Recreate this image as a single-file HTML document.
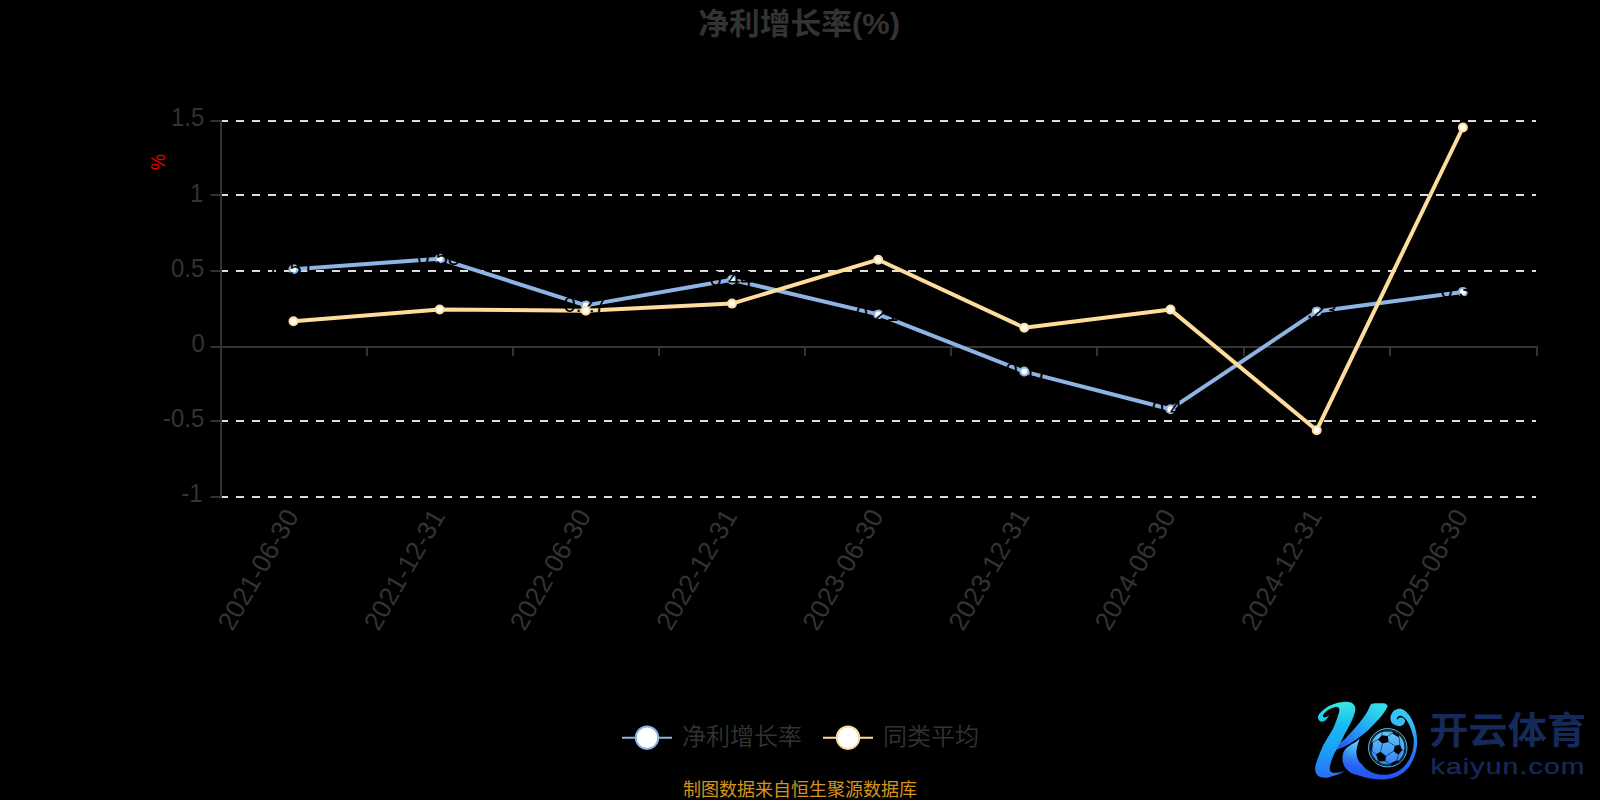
<!DOCTYPE html>
<html lang="zh-CN"><head><meta charset="utf-8"><title>净利增长率(%)</title>
<style>
html,body{margin:0;padding:0;background:#000;}
body{width:1600px;height:800px;overflow:hidden;font-family:"Liberation Sans","Noto Sans CJK SC",sans-serif;}
svg{display:block}
text{font-family:"Liberation Sans","Noto Sans CJK SC",sans-serif;}
</style></head><body>
<svg width="1600" height="800" viewBox="0 0 1600 800">
<rect width="1600" height="800" fill="#000"/>

<text x="799.1" y="33.5" font-size="30" font-weight="bold" fill="#333" text-anchor="middle" textLength="201.6" lengthAdjust="spacingAndGlyphs">净利增长率(%)</text>
<line x1="220" x2="1536" y1="121" y2="121" stroke="#dcdcdc" stroke-width="2" stroke-dasharray="8 8"/>
<line x1="220" x2="1536" y1="195" y2="195" stroke="#dcdcdc" stroke-width="2" stroke-dasharray="8 8"/>
<line x1="220" x2="1536" y1="271" y2="271" stroke="#dcdcdc" stroke-width="2" stroke-dasharray="8 8"/>
<line x1="220" x2="1536" y1="421" y2="421" stroke="#dcdcdc" stroke-width="2" stroke-dasharray="8 8"/>
<line x1="220" x2="1536" y1="497" y2="497" stroke="#dcdcdc" stroke-width="2" stroke-dasharray="8 8"/>
<line x1="221" x2="221" y1="120" y2="498" stroke="#333" stroke-width="2"/>
<line x1="220" x2="1538" y1="347" y2="347" stroke="#333" stroke-width="2"/>
<line x1="210.5" x2="221" y1="121" y2="121" stroke="#333" stroke-width="2"/>
<text transform="translate(204.2,126.4) scale(0.92,1)" font-size="26" fill="#333" text-anchor="end">1.5</text>
<line x1="210.5" x2="221" y1="195" y2="195" stroke="#333" stroke-width="2"/>
<text transform="translate(203.2,201.6) scale(0.92,1)" font-size="26" fill="#333" text-anchor="end">1</text>
<line x1="210.5" x2="221" y1="271" y2="271" stroke="#333" stroke-width="2"/>
<text transform="translate(204.2,276.8) scale(0.92,1)" font-size="26" fill="#333" text-anchor="end">0.5</text>
<line x1="210.5" x2="221" y1="347" y2="347" stroke="#333" stroke-width="2"/>
<text transform="translate(204.7,352.0) scale(0.92,1)" font-size="26" fill="#333" text-anchor="end">0</text>
<line x1="210.5" x2="221" y1="421" y2="421" stroke="#333" stroke-width="2"/>
<text transform="translate(204.2,427.2) scale(0.92,1)" font-size="26" fill="#333" text-anchor="end">-0.5</text>
<line x1="210.5" x2="221" y1="497" y2="497" stroke="#333" stroke-width="2"/>
<text transform="translate(202.6,502.4) scale(0.92,1)" font-size="26" fill="#333" text-anchor="end">-1</text>
<line x1="367" x2="367" y1="347" y2="356" stroke="#333" stroke-width="2"/>
<line x1="513" x2="513" y1="347" y2="356" stroke="#333" stroke-width="2"/>
<line x1="659" x2="659" y1="347" y2="356" stroke="#333" stroke-width="2"/>
<line x1="805" x2="805" y1="347" y2="356" stroke="#333" stroke-width="2"/>
<line x1="951" x2="951" y1="347" y2="356" stroke="#333" stroke-width="2"/>
<line x1="1097" x2="1097" y1="347" y2="356" stroke="#333" stroke-width="2"/>
<line x1="1244" x2="1244" y1="347" y2="356" stroke="#333" stroke-width="2"/>
<line x1="1390" x2="1390" y1="347" y2="356" stroke="#333" stroke-width="2"/>
<line x1="1537" x2="1537" y1="347" y2="356" stroke="#333" stroke-width="2"/>
<text transform="translate(291.7,511.3) rotate(-60)" font-size="26.3" fill="#333" text-anchor="end" dominant-baseline="central">2021-06-30</text>
<text transform="translate(437.9,511.3) rotate(-60)" font-size="26.3" fill="#333" text-anchor="end" dominant-baseline="central">2021-12-31</text>
<text transform="translate(584.0,511.3) rotate(-60)" font-size="26.3" fill="#333" text-anchor="end" dominant-baseline="central">2022-06-30</text>
<text transform="translate(730.2,511.3) rotate(-60)" font-size="26.3" fill="#333" text-anchor="end" dominant-baseline="central">2022-12-31</text>
<text transform="translate(876.4,511.3) rotate(-60)" font-size="26.3" fill="#333" text-anchor="end" dominant-baseline="central">2023-06-30</text>
<text transform="translate(1022.5,511.3) rotate(-60)" font-size="26.3" fill="#333" text-anchor="end" dominant-baseline="central">2023-12-31</text>
<text transform="translate(1168.7,511.3) rotate(-60)" font-size="26.3" fill="#333" text-anchor="end" dominant-baseline="central">2024-06-30</text>
<text transform="translate(1314.9,511.3) rotate(-60)" font-size="26.3" fill="#333" text-anchor="end" dominant-baseline="central">2024-12-31</text>
<text transform="translate(1461.1,511.3) rotate(-60)" font-size="26.3" fill="#333" text-anchor="end" dominant-baseline="central">2025-06-30</text>
<text transform="translate(158,162) rotate(-90) scale(0.9,1)" font-size="20" fill="#e60000" text-anchor="middle" dominant-baseline="central">%</text>
<polyline points="293.5,269.3 439.7,258.8 585.8,305.4 732.0,279.8 878.2,314.4 1024.3,371.6 1170.5,409.2 1316.7,311.4 1462.9,291.9" fill="none" stroke="#8eb4e3" stroke-width="4" stroke-linejoin="bevel"/>
<circle cx="293.5" cy="269.3" r="4" fill="#fff" stroke="#8eb4e3" stroke-width="2"/>
<circle cx="439.7" cy="258.8" r="4" fill="#fff" stroke="#8eb4e3" stroke-width="2"/>
<circle cx="585.8" cy="305.4" r="4" fill="#fff" stroke="#8eb4e3" stroke-width="2"/>
<circle cx="732.0" cy="279.8" r="4" fill="#fff" stroke="#8eb4e3" stroke-width="2"/>
<circle cx="878.2" cy="314.4" r="4" fill="#fff" stroke="#8eb4e3" stroke-width="2"/>
<circle cx="1024.3" cy="371.6" r="4" fill="#fff" stroke="#8eb4e3" stroke-width="2"/>
<circle cx="1170.5" cy="409.2" r="4" fill="#fff" stroke="#8eb4e3" stroke-width="2"/>
<circle cx="1316.7" cy="311.4" r="4" fill="#fff" stroke="#8eb4e3" stroke-width="2"/>
<circle cx="1462.9" cy="291.9" r="4" fill="#fff" stroke="#8eb4e3" stroke-width="2"/>
<polyline points="293.5,321.2 439.7,309.5 585.8,310.7 732.0,303.6 878.2,259.7 1024.3,327.7 1170.5,309.6 1316.7,430.2 1462.9,127.5" fill="none" stroke="#fedd9c" stroke-width="4" stroke-linejoin="bevel"/>
<text x="292.5" y="275.6" font-size="22" fill="#000" text-anchor="middle">0.51</text>
<text x="438.7" y="265.1" font-size="22" fill="#000" text-anchor="middle">0.58</text>
<text x="584.8" y="311.7" font-size="22" fill="#000" text-anchor="middle">0.27</text>
<text x="731.0" y="286.1" font-size="22" fill="#000" text-anchor="middle">0.44</text>
<text x="877.2" y="320.7" font-size="22" fill="#000" text-anchor="middle">0.21</text>
<text x="1023.3" y="377.9" font-size="22" fill="#000" text-anchor="middle">-0.17</text>
<text x="1169.5" y="415.5" font-size="22" fill="#000" text-anchor="middle">-0.42</text>
<text x="1315.7" y="317.7" font-size="22" fill="#000" text-anchor="middle">0.23</text>
<text x="1461.9" y="298.2" font-size="22" fill="#000" text-anchor="middle">0.36</text>
<circle cx="293.5" cy="321.2" r="4" fill="#fff" stroke="#fedd9c" stroke-width="2"/>
<circle cx="439.7" cy="309.5" r="4" fill="#fff" stroke="#fedd9c" stroke-width="2"/>
<circle cx="585.8" cy="310.7" r="4" fill="#fff" stroke="#fedd9c" stroke-width="2"/>
<circle cx="732.0" cy="303.6" r="4" fill="#fff" stroke="#fedd9c" stroke-width="2"/>
<circle cx="878.2" cy="259.7" r="4" fill="#fff" stroke="#fedd9c" stroke-width="2"/>
<circle cx="1024.3" cy="327.7" r="4" fill="#fff" stroke="#fedd9c" stroke-width="2"/>
<circle cx="1170.5" cy="309.6" r="4" fill="#fff" stroke="#fedd9c" stroke-width="2"/>
<circle cx="1316.7" cy="430.2" r="4" fill="#fff" stroke="#fedd9c" stroke-width="2"/>
<circle cx="1462.9" cy="127.5" r="4" fill="#fff" stroke="#fedd9c" stroke-width="2"/>
<line x1="622" x2="672" y1="737.7" y2="737.7" stroke="#8eb4e3" stroke-width="2"/><circle cx="647" cy="737.7" r="11.2" fill="#fff" stroke="#8eb4e3" stroke-width="2"/>
<text x="682" y="745" font-size="24" font-weight="350" fill="#333">净利增长率</text>
<line x1="823" x2="873" y1="737.7" y2="737.7" stroke="#fedd9c" stroke-width="2"/><circle cx="848" cy="737.7" r="11.2" fill="#fff" stroke="#fedd9c" stroke-width="2"/>
<text x="883" y="745" font-size="24" font-weight="350" fill="#333">同类平均</text>
<text x="800" y="796" font-size="18" fill="#d4941e" text-anchor="middle">制图数据来自恒生聚源数据库</text>
<defs><linearGradient id="ga" gradientUnits="userSpaceOnUse" x1="0" y1="55" x2="0" y2="740"><stop offset="0" stop-color="#3deadf"/><stop offset="0.3" stop-color="#17bdf5"/><stop offset="0.7" stop-color="#1d98f8"/><stop offset="1" stop-color="#2a6cf6"/></linearGradient><linearGradient id="gb" gradientUnits="userSpaceOnUse" x1="640" y1="80" x2="300" y2="480"><stop offset="0" stop-color="#36dde8"/><stop offset="0.45" stop-color="#22a8f6"/><stop offset="0.8" stop-color="#2a72f4"/><stop offset="1" stop-color="#2c4ef0"/></linearGradient><linearGradient id="gc" gradientUnits="userSpaceOnUse" x1="0" y1="120" x2="0" y2="755"><stop offset="0" stop-color="#36cdf3"/><stop offset="0.25" stop-color="#36b8f8"/><stop offset="0.45" stop-color="#2c92f8"/><stop offset="0.7" stop-color="#2a6cf5"/><stop offset="1" stop-color="#2450f2"/></linearGradient><radialGradient id="gr" gradientUnits="userSpaceOnUse" cx="450" cy="410" r="230"><stop offset="0" stop-color="#5ad4fa" stop-opacity="0.95"/><stop offset="0.45" stop-color="#46b4f8" stop-opacity="0.7"/><stop offset="1" stop-color="#2f80f6" stop-opacity="0"/></radialGradient><clipPath id="cc"><path d="M484.4,390.0 C478.8,394.7 465.7,407.8 451.0,418.0 C436.3,428.2 411.7,439.9 396.0,451.0 C380.3,462.1 366.8,471.5 357.0,484.5 C347.2,497.5 340.8,512.3 337.0,529.0 C333.2,545.7 332.1,566.9 334.4,584.5 C336.7,602.1 342.7,619.7 351.0,634.5 C359.3,649.3 371.4,662.3 384.4,673.4 C397.4,684.5 408.6,692.7 429.0,701.0 C449.4,709.3 478.5,716.1 507.0,723.4 C535.5,730.7 571.2,740.2 600.0,745.0 C628.8,749.8 651.7,752.8 680.0,752.0 C708.3,751.2 740.0,748.7 770.0,740.0 C800.0,731.3 833.3,718.3 860.0,700.0 C886.7,681.7 910.8,656.7 930.0,630.0 C949.2,603.3 964.2,570.0 975.0,540.0 C985.8,510.0 991.5,473.3 995.0,450.0 C998.5,426.7 996.7,419.5 995.7,400.0 C994.7,380.5 993.8,356.7 989.0,333.0 C984.2,309.3 975.8,281.3 967.0,258.0 C958.2,234.7 947.5,211.3 936.0,193.0 C924.5,174.7 911.0,159.3 898.0,148.0 C885.0,136.7 871.7,128.5 858.0,125.0 C844.3,121.5 829.0,122.8 816.0,127.0 C803.0,131.2 789.2,139.3 780.0,150.0 C770.8,160.7 763.6,177.2 761.0,191.0 C758.4,204.8 759.5,221.0 764.5,233.0 C769.5,245.0 779.9,255.8 791.0,263.0 C802.1,270.2 818.7,275.5 831.0,276.5 C843.3,277.5 855.7,274.3 865.0,269.0 C874.3,263.7 883.3,252.7 887.0,244.5 C890.7,236.3 890.3,227.1 887.0,220.0 C883.7,212.9 874.0,205.3 867.0,202.0 C860.0,198.7 851.8,198.5 845.0,200.0 C838.2,201.5 830.2,207.2 826.0,211.0 C821.8,214.8 821.0,221.0 820.0,223.0 C819.5,220.3 815.3,212.7 817.0,207.0 C818.7,201.3 823.2,192.3 830.0,189.0 C836.8,185.7 848.2,183.8 858.0,187.0 C867.8,190.2 879.3,198.4 889.0,208.0 C898.7,217.6 907.2,228.8 916.0,244.5 C924.8,260.2 934.7,282.0 942.0,302.0 C949.3,322.0 955.8,348.2 960.0,364.5 C964.2,380.8 966.7,382.4 967.0,400.0 C967.3,417.6 966.5,445.8 962.0,470.0 C957.5,494.2 951.2,520.0 940.0,545.0 C928.8,570.0 913.3,598.3 895.0,620.0 C876.7,641.7 854.2,660.8 830.0,675.0 C805.8,689.2 775.0,699.5 750.0,705.0 C725.0,710.5 705.0,710.5 680.0,708.0 C655.0,705.5 623.3,698.8 600.0,690.0 C576.7,681.2 555.5,667.0 540.0,655.0 C524.5,643.0 516.3,627.9 507.0,618.0 C497.7,608.1 491.9,606.8 484.4,595.6 C476.9,584.4 466.6,567.7 462.0,551.0 C457.4,534.3 455.7,514.1 456.7,495.6 C457.7,477.1 463.2,457.6 467.8,440.0 C472.4,422.4 481.6,398.3 484.4,390.0 Z"/></clipPath><linearGradient id="bg" gradientUnits="userSpaceOnUse" x1="0" y1="140" x2="0" y2="600"><stop offset="0" stop-color="#66c8f6"/><stop offset="1" stop-color="#3381f6"/></linearGradient></defs>
<g transform="translate(1305,695) scale(0.1125)">
<path d="M484.4,390.0 C478.8,394.7 465.7,407.8 451.0,418.0 C436.3,428.2 411.7,439.9 396.0,451.0 C380.3,462.1 366.8,471.5 357.0,484.5 C347.2,497.5 340.8,512.3 337.0,529.0 C333.2,545.7 332.1,566.9 334.4,584.5 C336.7,602.1 342.7,619.7 351.0,634.5 C359.3,649.3 371.4,662.3 384.4,673.4 C397.4,684.5 408.6,692.7 429.0,701.0 C449.4,709.3 478.5,716.1 507.0,723.4 C535.5,730.7 571.2,740.2 600.0,745.0 C628.8,749.8 651.7,752.8 680.0,752.0 C708.3,751.2 740.0,748.7 770.0,740.0 C800.0,731.3 833.3,718.3 860.0,700.0 C886.7,681.7 910.8,656.7 930.0,630.0 C949.2,603.3 964.2,570.0 975.0,540.0 C985.8,510.0 991.5,473.3 995.0,450.0 C998.5,426.7 996.7,419.5 995.7,400.0 C994.7,380.5 993.8,356.7 989.0,333.0 C984.2,309.3 975.8,281.3 967.0,258.0 C958.2,234.7 947.5,211.3 936.0,193.0 C924.5,174.7 911.0,159.3 898.0,148.0 C885.0,136.7 871.7,128.5 858.0,125.0 C844.3,121.5 829.0,122.8 816.0,127.0 C803.0,131.2 789.2,139.3 780.0,150.0 C770.8,160.7 763.6,177.2 761.0,191.0 C758.4,204.8 759.5,221.0 764.5,233.0 C769.5,245.0 779.9,255.8 791.0,263.0 C802.1,270.2 818.7,275.5 831.0,276.5 C843.3,277.5 855.7,274.3 865.0,269.0 C874.3,263.7 883.3,252.7 887.0,244.5 C890.7,236.3 890.3,227.1 887.0,220.0 C883.7,212.9 874.0,205.3 867.0,202.0 C860.0,198.7 851.8,198.5 845.0,200.0 C838.2,201.5 830.2,207.2 826.0,211.0 C821.8,214.8 821.0,221.0 820.0,223.0 C819.5,220.3 815.3,212.7 817.0,207.0 C818.7,201.3 823.2,192.3 830.0,189.0 C836.8,185.7 848.2,183.8 858.0,187.0 C867.8,190.2 879.3,198.4 889.0,208.0 C898.7,217.6 907.2,228.8 916.0,244.5 C924.8,260.2 934.7,282.0 942.0,302.0 C949.3,322.0 955.8,348.2 960.0,364.5 C964.2,380.8 966.7,382.4 967.0,400.0 C967.3,417.6 966.5,445.8 962.0,470.0 C957.5,494.2 951.2,520.0 940.0,545.0 C928.8,570.0 913.3,598.3 895.0,620.0 C876.7,641.7 854.2,660.8 830.0,675.0 C805.8,689.2 775.0,699.5 750.0,705.0 C725.0,710.5 705.0,710.5 680.0,708.0 C655.0,705.5 623.3,698.8 600.0,690.0 C576.7,681.2 555.5,667.0 540.0,655.0 C524.5,643.0 516.3,627.9 507.0,618.0 C497.7,608.1 491.9,606.8 484.4,595.6 C476.9,584.4 466.6,567.7 462.0,551.0 C457.4,534.3 455.7,514.1 456.7,495.6 C457.7,477.1 463.2,457.6 467.8,440.0 C472.4,422.4 481.6,398.3 484.4,390.0 Z" fill="url(#gc)"/>
<circle cx="450" cy="410" r="230" fill="url(#gr)" clip-path="url(#cc)"/>
<path d="M281.7,484.5 C286.6,475.2 298.6,444.8 311.0,429.0 C323.4,413.2 337.5,408.5 356.0,390.0 C374.5,371.5 399.8,343.0 422.0,318.0 C444.2,293.0 468.5,266.0 489.0,240.0 C509.5,214.0 531.2,183.3 545.0,162.0 C558.8,140.7 566.5,123.1 572.0,112.0 C577.5,100.9 574.7,100.8 578.0,95.6 C581.3,90.4 584.7,84.7 592.0,81.0 C599.3,77.3 604.0,74.7 622.0,73.4 C640.0,72.1 682.8,71.6 700.0,73.4 C717.2,75.2 719.4,79.9 725.0,84.5 C730.6,89.1 734.0,94.5 733.5,101.0 C733.0,107.5 732.2,107.6 722.0,123.4 C711.8,139.2 692.3,171.1 672.0,196.0 C651.7,220.9 625.0,248.0 600.0,273.0 C575.0,298.0 551.7,321.8 522.0,346.0 C492.3,370.2 451.6,398.7 422.0,418.0 C392.4,437.3 367.9,450.9 344.5,462.0 C321.1,473.1 292.2,480.8 281.7,484.5 Z" fill="url(#gb)"/>
<path d="M212.0,179.0 C210.5,182.5 209.2,191.3 203.0,200.0 C196.8,208.7 185.2,224.8 175.0,231.0 C164.8,237.2 151.5,240.0 142.0,237.0 C132.5,234.0 121.7,222.5 118.0,213.0 C114.3,203.5 113.5,192.5 120.0,180.0 C126.5,167.5 140.7,152.0 157.0,138.0 C173.3,124.0 196.8,107.2 218.0,96.0 C239.2,84.8 260.8,77.2 284.0,71.0 C307.2,64.8 336.5,59.7 357.0,59.0 C377.5,58.3 393.2,61.0 407.0,67.0 C420.8,73.0 433.3,83.8 440.0,95.0 C446.7,106.2 448.7,117.2 447.0,134.0 C445.3,150.8 438.5,173.7 430.0,196.0 C421.5,218.3 409.2,242.2 396.0,268.0 C382.8,293.8 364.3,325.3 351.0,351.0 C337.7,376.7 327.2,400.7 316.0,422.0 C304.8,443.3 293.0,463.0 284.0,479.0 C275.0,495.0 270.0,500.5 262.0,518.0 C254.0,535.5 242.8,563.7 236.0,584.0 C229.2,604.3 223.0,625.2 221.0,640.0 C219.0,654.8 219.8,664.7 224.0,673.0 C228.2,681.3 234.0,687.2 246.0,690.0 C258.0,692.8 278.5,692.3 296.0,690.0 C313.5,687.7 341.8,678.3 351.0,676.0 C344.5,679.5 327.7,690.0 312.0,697.0 C296.3,704.0 277.3,711.7 257.0,718.0 C236.7,724.3 210.5,733.2 190.0,735.0 C169.5,736.8 148.8,734.7 134.0,729.0 C119.2,723.3 108.3,714.0 101.0,701.0 C93.7,688.0 89.0,670.5 90.0,651.0 C91.0,631.5 96.7,614.5 107.0,584.0 C117.3,553.5 136.0,502.7 152.0,468.0 C168.0,433.3 186.5,404.7 203.0,376.0 C219.5,347.3 237.5,323.3 251.0,296.0 C264.5,268.7 275.7,235.2 284.0,212.0 C292.3,188.8 297.5,171.5 301.0,157.0 C304.5,142.5 306.8,133.2 305.0,125.0 C303.2,116.8 298.0,110.5 290.0,108.0 C282.0,105.5 270.0,106.5 257.0,110.0 C244.0,113.5 226.0,120.7 212.0,129.0 C198.0,137.3 181.8,150.7 173.0,160.0 C164.2,169.3 159.8,178.7 159.0,185.0 C158.2,191.3 162.8,196.2 168.0,198.0 C173.2,199.8 182.7,199.2 190.0,196.0 C197.3,192.8 208.3,181.8 212.0,179.0 Z" fill="url(#ga)"/>
</g>
<g transform="translate(1360,720) scale(0.075)">
<circle cx="370" cy="370" r="256" fill="none" stroke="#5fc6f7" stroke-width="13"/>
<circle cx="370" cy="370" r="236" fill="none" stroke="#4aa8f0" stroke-width="5"/>
<circle cx="370" cy="370" r="224" fill="url(#bg)"/>
<polygon points="290,203 372,212 382,292 300,312 238,262" fill="#000"/>
<polygon points="462,345 532,328 562,402 512,462 448,415" fill="#000"/>
<polygon points="212,455 275,423 347,480 337,548 248,552" fill="#000"/>
<polygon points="438,150 522,198 520,232 440,186" fill="#000"/>
<polygon points="400,582 492,538 524,552 432,602" fill="#000"/>
<polygon points="146,300 170,292 162,405 140,420" fill="#000"/>
<polyline points="372,212 440,172" stroke="#021030" stroke-width="8" fill="none"/>
<polyline points="382,292 462,345" stroke="#021030" stroke-width="8" fill="none"/>
<polyline points="300,312 275,423" stroke="#021030" stroke-width="8" fill="none"/>
<polyline points="238,262 168,296" stroke="#021030" stroke-width="8" fill="none"/>
<polyline points="290,203 296,150" stroke="#021030" stroke-width="8" fill="none"/>
<polyline points="532,328 522,228" stroke="#021030" stroke-width="8" fill="none"/>
<polyline points="562,402 604,412" stroke="#021030" stroke-width="8" fill="none"/>
<polyline points="512,462 492,540" stroke="#021030" stroke-width="8" fill="none"/>
<polyline points="448,415 347,480" stroke="#021030" stroke-width="8" fill="none"/>
<polyline points="337,548 402,584" stroke="#021030" stroke-width="8" fill="none"/>
<polyline points="248,552 236,572" stroke="#021030" stroke-width="8" fill="none"/>
<polyline points="212,455 152,410" stroke="#021030" stroke-width="8" fill="none"/>
<polyline points="296,150 440,160" stroke="#021030" stroke-width="8" fill="none"/>
<polyline points="168,296 152,410" stroke="#021030" stroke-width="8" fill="none"/>
</g>
<text x="1507.75" y="744.2" font-size="37" font-weight="bold" fill="#15295b" text-anchor="middle" textLength="156.8" lengthAdjust="spacingAndGlyphs">开云体育</text>
<text transform="translate(1430.6,773.6) scale(1.32,1)" font-size="21.5" fill="#15295b" stroke="#15295b" stroke-width="0.3" textLength="116.6" lengthAdjust="spacing">kaiyun.com</text>
</svg></body></html>
